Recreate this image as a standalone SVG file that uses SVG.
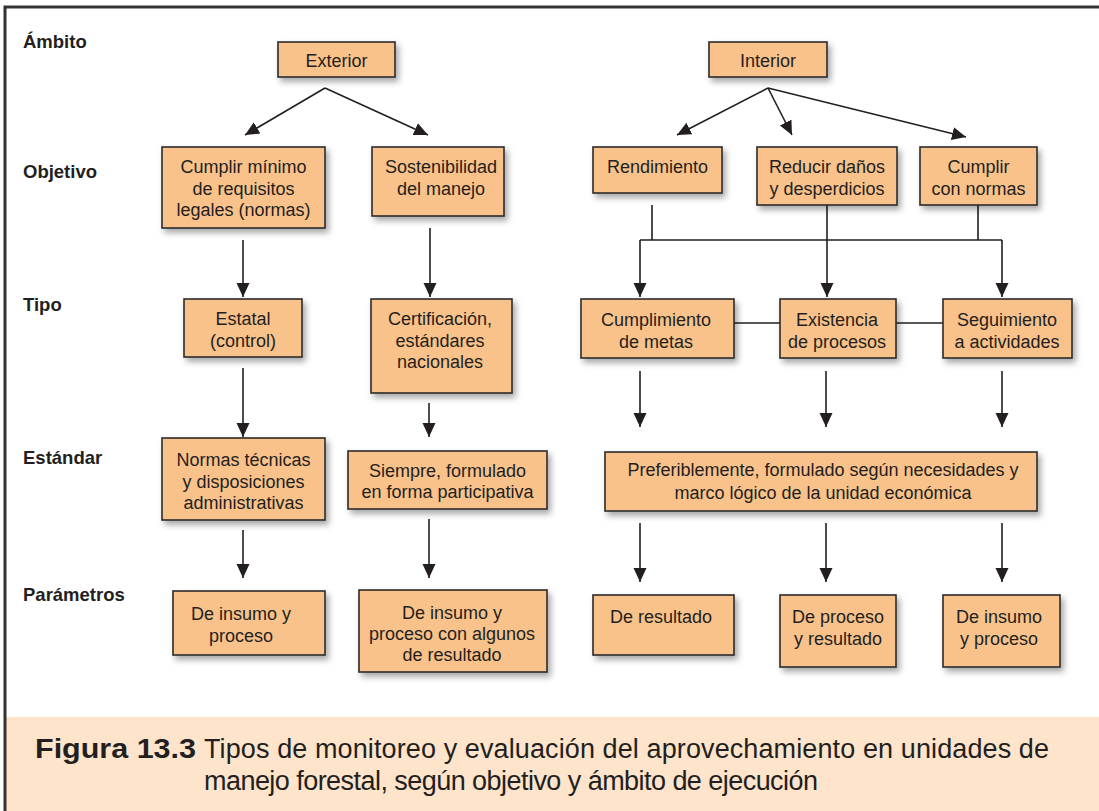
<svg xmlns="http://www.w3.org/2000/svg" width="1099" height="811" viewBox="0 0 1099 811">
<defs>
<style>
.box{fill:#F9C28A;stroke:#2b2b2b;stroke-width:1.6;filter:url(#sh)}
.t{font-family:"Liberation Sans",Arial,Helvetica,sans-serif;font-size:18px;fill:#231f20;text-anchor:middle}
.lab{font-family:"Liberation Sans",Arial,Helvetica,sans-serif;font-size:18.5px;font-weight:bold;fill:#231f20}
.cap{font-family:"Liberation Sans",Arial,Helvetica,sans-serif;font-size:27px;fill:#231f20}
.ln{fill:none;stroke:#231f20;stroke-width:1.6}
.ar{fill:none;stroke:#231f20;stroke-width:1.6;marker-end:url(#ah)}
</style>
<filter id="sh" x="-10%" y="-10%" width="130%" height="150%">
<feDropShadow dx="3" dy="4" stdDeviation="3" flood-color="#000" flood-opacity="0.35"/>
</filter>
<marker id="ah" markerUnits="userSpaceOnUse" markerWidth="15" markerHeight="15" viewBox="0 0 15 15" refX="14" refY="7.5" orient="auto">
<path d="M0,1 L14,7.5 L0,14 Z" fill="#231f20"/>
</marker>
</defs>
<rect x="0" y="0" width="1099" height="811" fill="#ffffff"/>
<rect x="6" y="717" width="1093" height="94" fill="#FDE4CB"/>
<path d="M5,811 V7 H1099" fill="none" stroke="#333333" stroke-width="3"/>

<g id="labels">
<text class="lab" x="23" y="48">Ámbito</text>
<text class="lab" x="23" y="178">Objetivo</text>
<text class="lab" x="23" y="311">Tipo</text>
<text class="lab" x="23" y="464">Estándar</text>
<text class="lab" x="23" y="601">Parámetros</text>
</g>

<g id="connectors">
<path class="ar" d="M325,88 L245,135"/>
<path class="ar" d="M325,88 L428,135"/>
<path class="ar" d="M768,88 L677,135"/>
<path class="ar" d="M768,88 L792,135"/>
<path class="ar" d="M768,88 L966,137"/>
<path class="ar" d="M243,240 V297"/>
<path class="ar" d="M430,228 V297"/>
<path class="ln" d="M652,205 V240 M978,205 V240 M640,240 H1002"/>
<path class="ar" d="M640,240 V297"/>
<path class="ar" d="M827,205 V297"/>
<path class="ar" d="M1002,240 V297"/>
<path class="ln" d="M734,323 H780 M896,323 H943"/>
<path class="ar" d="M243,368 V437"/>
<path class="ar" d="M429,403 V437"/>
<path class="ar" d="M640,371 V427"/>
<path class="ar" d="M826,371 V427"/>
<path class="ar" d="M1002,371 V427"/>
<path class="ar" d="M243,530 V578"/>
<path class="ar" d="M429,519 V578"/>
<path class="ar" d="M640,523 V582"/>
<path class="ar" d="M826,523 V582"/>
<path class="ar" d="M1002,523 V582"/>
</g>

<g id="n_exterior"><rect class="box" x="278" y="42" width="117" height="35"/><text class="t" x="336.5" y="67">Exterior</text></g>
<g id="n_interior"><rect class="box" x="709" y="42" width="118" height="35"/><text class="t" x="768" y="67">Interior</text></g>

<g id="n_cumplir_minimo"><rect class="box" x="162" y="147" width="163" height="81"/>
<text class="t" x="243.5" y="173">Cumplir mínimo</text><text class="t" x="243.5" y="194.5">de requisitos</text><text class="t" x="243.5" y="216">legales (normas)</text></g>
<g id="n_sostenibilidad"><rect class="box" x="372" y="147" width="132" height="69"/>
<text class="t" x="441" y="173">Sostenibilidad</text><text class="t" x="441" y="194.5">del manejo</text></g>
<g id="n_rendimiento"><rect class="box" x="593" y="147" width="129" height="46"/>
<text class="t" x="657.5" y="173">Rendimiento</text></g>
<g id="n_reducir"><rect class="box" x="757" y="147" width="140" height="58"/>
<text class="t" x="827" y="173">Reducir daños</text><text class="t" x="827" y="194.5">y desperdicios</text></g>
<g id="n_cumplir_normas"><rect class="box" x="920" y="147" width="117" height="58"/>
<text class="t" x="978.5" y="173">Cumplir</text><text class="t" x="978.5" y="194.5">con normas</text></g>

<g id="n_estatal"><rect class="box" x="184" y="299" width="118" height="58"/>
<text class="t" x="243" y="325">Estatal</text><text class="t" x="243" y="346.5">(control)</text></g>
<g id="n_certificacion"><rect class="box" x="371" y="299" width="141" height="94"/>
<text class="t" x="440" y="325">Certificación,</text><text class="t" x="440" y="346.5">estándares</text><text class="t" x="440" y="368">nacionales</text></g>
<g id="n_cumplimiento"><rect class="box" x="581" y="299" width="153" height="59"/>
<text class="t" x="656" y="326">Cumplimiento</text><text class="t" x="656" y="348">de metas</text></g>
<g id="n_existencia"><rect class="box" x="780" y="299" width="116" height="59"/>
<text class="t" x="837" y="326">Existencia</text><text class="t" x="837" y="348">de procesos</text></g>
<g id="n_seguimiento"><rect class="box" x="943" y="299" width="129" height="59"/>
<text class="t" x="1007" y="326">Seguimiento</text><text class="t" x="1007" y="348">a actividades</text></g>

<g id="n_normas"><rect class="box" x="162" y="438" width="163" height="82"/>
<text class="t" x="243.5" y="466">Normas técnicas</text><text class="t" x="243.5" y="488">y disposiciones</text><text class="t" x="243.5" y="509">administrativas</text></g>
<g id="n_siempre"><rect class="box" x="348" y="451" width="199" height="58"/>
<text class="t" x="447.5" y="477">Siempre, formulado</text><text class="t" x="447.5" y="498">en forma participativa</text></g>
<g id="n_preferiblemente"><rect class="box" x="605" y="452" width="432" height="59"/>
<text class="t" x="823" y="476">Preferiblemente, formulado según necesidades y</text><text class="t" x="823" y="499">marco lógico de la unidad económica</text></g>

<g id="n_par_insumo_proceso_1"><rect class="box" x="173" y="591" width="152" height="64"/>
<text class="t" x="241" y="620">De insumo y</text><text class="t" x="241" y="642">proceso</text></g>
<g id="n_par_insumo_proceso_algunos"><rect class="box" x="359" y="590" width="188" height="82"/>
<text class="t" x="452" y="619">De insumo y</text><text class="t" x="452" y="640">proceso con algunos</text><text class="t" x="452" y="661">de resultado</text></g>
<g id="n_par_resultado"><rect class="box" x="593" y="595" width="141" height="60"/>
<text class="t" x="661" y="623">De resultado</text></g>
<g id="n_par_proceso_resultado"><rect class="box" x="780" y="595" width="116" height="72"/>
<text class="t" x="838" y="623">De proceso</text><text class="t" x="838" y="645">y resultado</text></g>
<g id="n_par_insumo_proceso_2"><rect class="box" x="943" y="595" width="117" height="72"/>
<text class="t" x="999" y="623">De insumo</text><text class="t" x="999" y="645">y proceso</text></g>

<g id="caption">
<text class="cap" x="35" y="758" font-weight="bold" font-size="29.5" textLength="161" lengthAdjust="spacingAndGlyphs">Figura 13.3</text>
<text class="cap" x="204" y="758" textLength="845" lengthAdjust="spacing">Tipos de monitoreo y evaluación del aprovechamiento en unidades de</text>
<text class="cap" x="204" y="790" textLength="614" lengthAdjust="spacing">manejo forestal, según objetivo y ámbito de ejecución</text>
</g>
</svg>
